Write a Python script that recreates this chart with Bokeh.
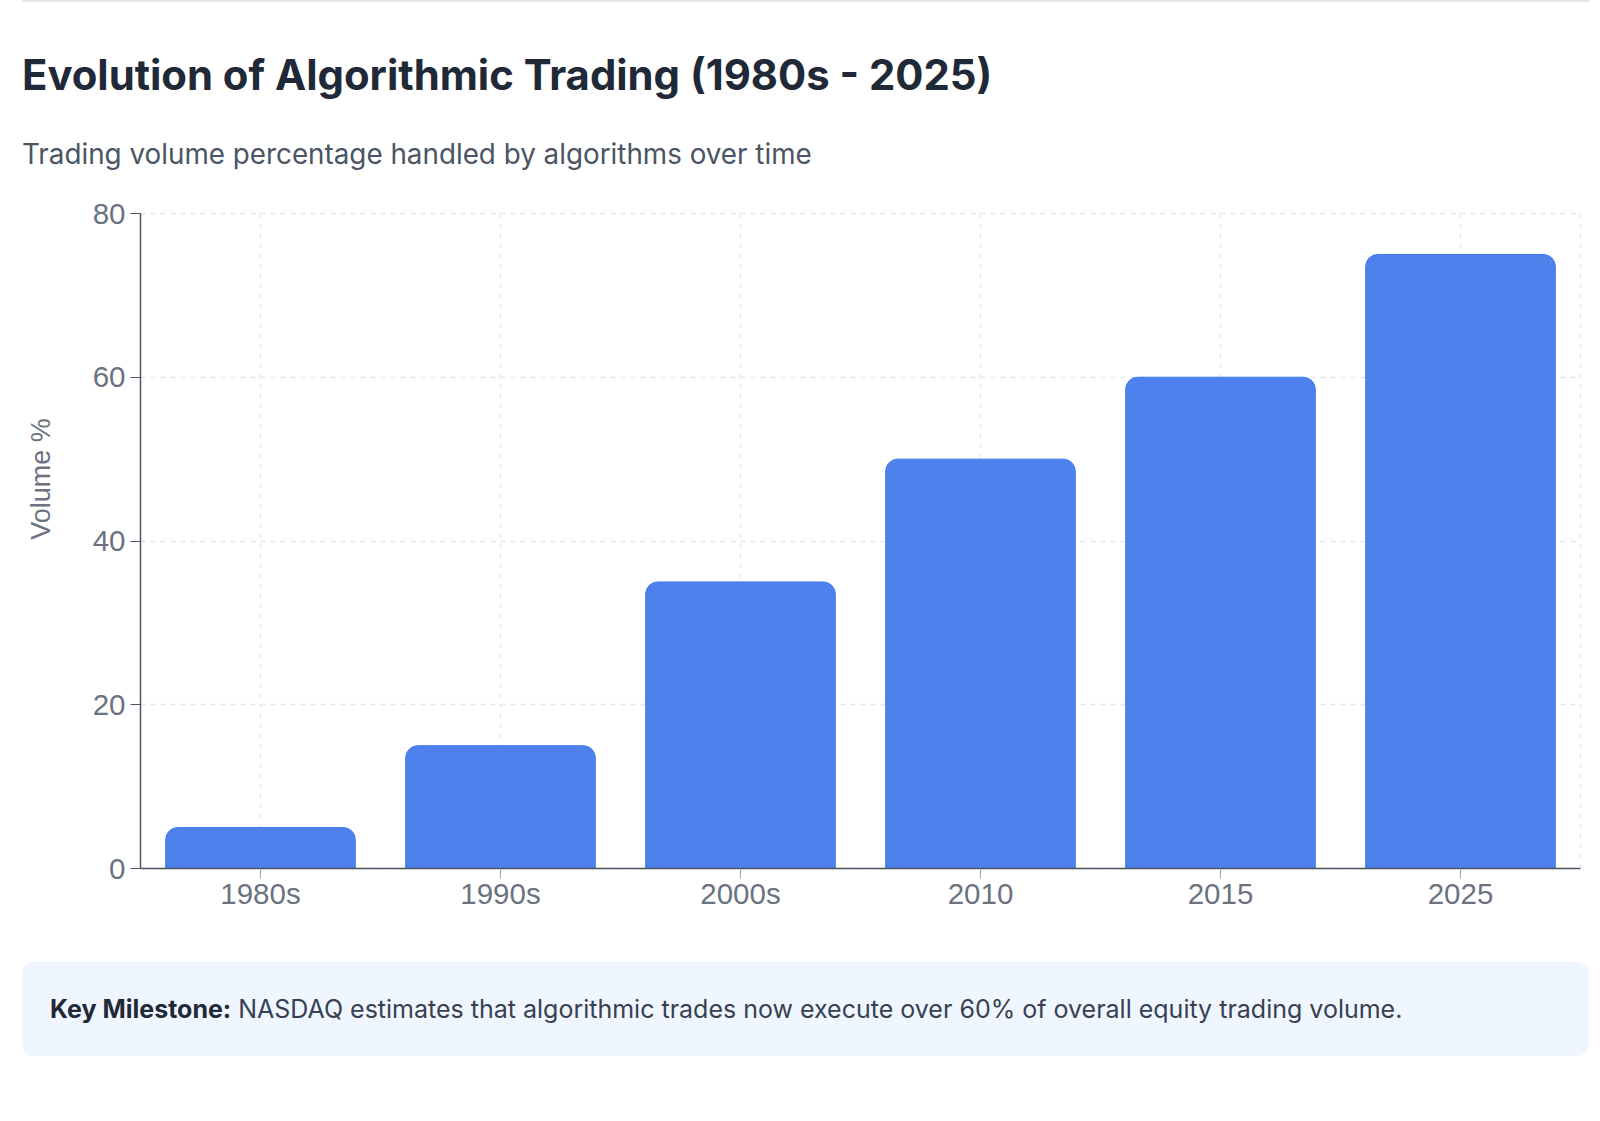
from bokeh.plotting import figure
from bokeh.models import Div, ColumnDataSource, SingleIntervalTicker
from bokeh.layouts import column, row
from bokeh.embed import file_html
from bokeh.resources import INLINE

categories = ["1980s", "1990s", "2000s", "2010", "2015", "2025"]
volume_pct = [5, 15, 35, 50, 60, 75]
y_ticks_interval = 20

title_text = "Evolution of Algorithmic Trading (1980s - 2025)"
subtitle_text = "Trading volume percentage handled by algorithms over time"
y_label = "Volume %"
note_bold = "Key Milestone:"
note_text = "NASDAQ estimates that algorithmic trades now execute over 60% of overall equity trading volume."

header = Div(
    text=(
        '<div style="font-family:Inter;">'
        '<div style="height:2px;background:#e5e7eb;margin-left:22px;width:1567px;"></div>'
        f'<div style="font-size:41.8px;font-weight:700;line-height:50px;color:#1f2937;margin-top:48px;padding-left:22px;white-space:nowrap;">{title_text}</div>'
        f'<div style="font-size:27.8px;font-weight:400;line-height:34px;color:#4b5563;margin-top:37px;padding-left:22px;white-space:nowrap;">{subtitle_text}</div>'
        '</div>'
    ),
    width=1600, height=193, margin=(0, 0, 0, 0),
)

ylabel_div = Div(
    text=(
        '<div style="position:absolute;left:41px;top:286px;'
        'transform:translate(-50%,-50%) rotate(-90deg);'
        "font-family:'Liberation Sans';font-size:27px;line-height:30px;"
        f'color:#6b7280;white-space:nowrap;">{y_label}</div>'
    ),
    width=70, height=737, margin=(0, 0, 0, 0),
    styles={"position": "relative", "overflow": "visible"},
)

source = ColumnDataSource(data=dict(cat=categories, val=volume_pct))

p = figure(
    x_range=categories, y_range=(0, 80),
    width=1530, height=737,
    output_backend="svg", toolbar_location=None,
    min_border_left=70, min_border_right=20,
    min_border_top=20, min_border_bottom=62,
    margin=(0, 0, 0, 0),
)
p.vbar(x="cat", top="val", width=0.79, source=source,
       fill_color="#4e81ec", line_color="#3f7af2", line_width=1,
       border_radius=(12, 12, 0, 0))

p.background_fill_color = "white"
p.border_fill_color = "white"
p.outline_line_color = "#e5e7eb"
p.outline_line_dash = "5 5"
p.outline_line_width = 1.3

for g in (p.xgrid, p.ygrid):
    g.grid_line_color = "#e5e7eb"
    g.grid_line_dash = "5 5"
    g.grid_line_width = 1.3

p.yaxis.ticker = SingleIntervalTicker(interval=y_ticks_interval)
p.yaxis.minor_tick_line_color = None
p.yaxis.axis_line_color = "#4b5563"
p.yaxis.axis_line_width = 1.5
p.yaxis.major_tick_line_color = "#4b5563"
p.yaxis.major_tick_out = 10
p.yaxis.major_tick_in = 0
p.yaxis.major_label_text_font = "Liberation Sans"
p.yaxis.major_label_text_font_size = "29.5px"
p.yaxis.major_label_text_color = "#6b7280"
p.yaxis.major_label_standoff = 5

p.xaxis.axis_line_color = "#4b5563"
p.xaxis.axis_line_width = 1.5
p.xaxis.major_tick_line_color = "#9ca3af"
p.xaxis.major_tick_out = 10
p.xaxis.major_tick_in = 0
p.xaxis.major_label_text_font = "Liberation Sans"
p.xaxis.major_label_text_font_size = "29.5px"
p.xaxis.major_label_text_color = "#6b7280"
p.xaxis.major_label_standoff = -2

chart_row = row(ylabel_div, p, margin=(0, 0, 0, 0), spacing=0)

note = Div(
    text=(
        '<div style="font-family:Inter;font-size:25px;line-height:94px;color:#374151;padding-left:28px;white-space:nowrap;">'
        f'<span style="font-weight:700;color:#1f2937;">{note_bold}</span> {note_text}</div>'
    ),
    width=1567, height=94, margin=(32, 0, 0, 22),
    styles={"background-color": "#eff6ff", "border-radius": "12px"},
)

layout = column(header, chart_row, note, margin=(0, 0, 0, 0), spacing=0)

open("out.html", "w").write(file_html(layout, INLINE))
